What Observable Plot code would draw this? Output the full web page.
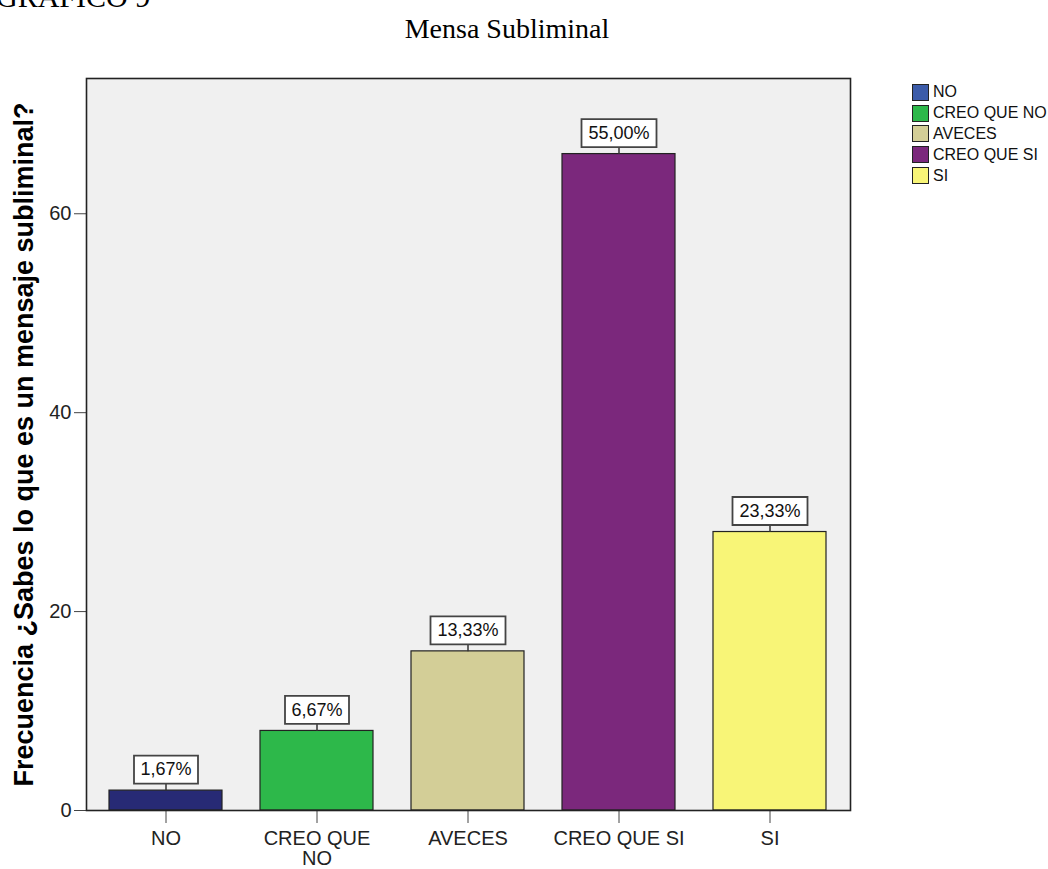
<!DOCTYPE html>
<html>
<head>
<meta charset="utf-8">
<script src="https://cdn.jsdelivr.net/npm/d3@7"></script>
<script src="https://cdn.jsdelivr.net/npm/@observablehq/plot@0.6"></script>
<style>
  html, body { margin: 0; padding: 0; background: #fff; overflow: hidden; }
  #wrap { position: relative; width: 1048px; height: 869px; }
  #chart { position: absolute; left: 0; top: 0; }
  .t1 { position: absolute; font-family: "Liberation Serif", "Times New Roman", serif; font-size: 28px; color: #000; white-space: nowrap; line-height: 1; }
  #legend { position: absolute; left: 912px; top: 82px; font-family: "Liberation Sans", Arial, sans-serif; font-size: 16px; color: #111; }
  #legend .row { display: flex; align-items: center; height: 20.8px; white-space: nowrap; }
  #legend .sw { width: 17px; height: 17px; border: 1.5px solid #222; margin-right: 4px; box-sizing: border-box; }
  #chart svg [aria-label="y-axis label"] text { font-weight: bold; font-size: 27px; fill: #000; }
</style>
</head>
<body>
<div id="wrap">
  <div id="chart"></div>
  <div class="t1" style="left:-4px; top:-18px; font-size:30px;">GRAFICO 9</div>
  <div class="t1" style="left:0; width:1014px; text-align:center; top:15px;">Mensa Subliminal</div>
  <div id="legend"></div>
</div>
<script>
const categories = ["NO", "CREO QUE NO", "AVECES", "CREO QUE SI", "SI"];
const counts = [2, 8, 16, 66, 28];
const pctLabels = ["1,67%", "6,67%", "13,33%", "55,00%", "23,33%"];
const tickLabels = ["NO", "CREO QUE\nNO", "AVECES", "CREO QUE SI", "SI"];
const barColors = ["#272a75", "#2db84a", "#d3ce97", "#7b287c", "#f8f577"];
const legendColors = ["#3b5ba9", "#2db84a", "#d3ce97", "#7b287c", "#f8f577"];
const yTicks = [0, 20, 40, 60];
const yLabel = "Frecuencia ¿Sabes lo que es un mensaje subliminal?";

const data = categories.map((c, i) => ({cat: c, count: counts[i], pct: pctLabels[i]}));

function boxSymbol(w, h) {
  return {draw(ctx) { ctx.rect(-w / 2, -h / 2, w, h); }};
}
const connector = {draw(ctx) { ctx.moveTo(0, 0); ctx.lineTo(0, -7); }};

const chart = Plot.plot({
  width: 1048,
  height: 869,
  marginLeft: 86,
  marginRight: 198,
  marginTop: 78,
  marginBottom: 59,
  style: {fontFamily: "'Liberation Sans', Arial, sans-serif", fontSize: "20px", color: "#222", background: "transparent", overflow: "visible"},
  x: {domain: categories, paddingInner: 0.25, paddingOuter: 0.14},
  y: {domain: [0, 73.6]},
  color: {domain: categories, range: barColors},
  marks: [
    Plot.frame({fill: "#f0f0f0"}),
    Plot.barY(data, {x: "cat", y: "count", fill: "cat", stroke: "#222", strokeWidth: 1.2}),
    Plot.dot(data, {x: "cat", y: "count", symbol: connector, stroke: "#333", strokeWidth: 1.5, r: 5}),
    Plot.dot(data.filter(d => d.pct.length <= 5), {x: "cat", y: "count", dy: -21, symbol: boxSymbol(64, 28), fill: "white", stroke: "#444", strokeWidth: 1.8, r: 5}),
    Plot.dot(data.filter(d => d.pct.length > 5), {x: "cat", y: "count", dy: -21, symbol: boxSymbol(75, 28), fill: "white", stroke: "#444", strokeWidth: 1.8, r: 5}),
    Plot.text(data, {x: "cat", y: "count", text: "pct", dy: -21, fontSize: 18, fill: "#111"}),
    Plot.axisY({ticks: yTicks, tickSize: 12, tickPadding: 3, label: yLabel, labelAnchor: "center", labelArrow: "none", labelOffset: 73, stroke: "#444", fontSize: 20}),
    Plot.axisX({tickSize: 13, tickPadding: 7, tickFormat: d => tickLabels[categories.indexOf(d)], label: null, stroke: "#444", fontSize: 20, lineHeight: 1.0}),
    Plot.frame({stroke: "#222", strokeWidth: 1.6})
  ]
});
document.getElementById("chart").appendChild(chart);

const legend = document.getElementById("legend");
categories.forEach((c, i) => {
  const row = document.createElement("div");
  row.className = "row";
  const sw = document.createElement("div");
  sw.className = "sw";
  sw.style.background = legendColors[i];
  const lab = document.createElement("span");
  lab.textContent = c;
  row.appendChild(sw);
  row.appendChild(lab);
  legend.appendChild(row);
});
</script>
</body>
</html>
